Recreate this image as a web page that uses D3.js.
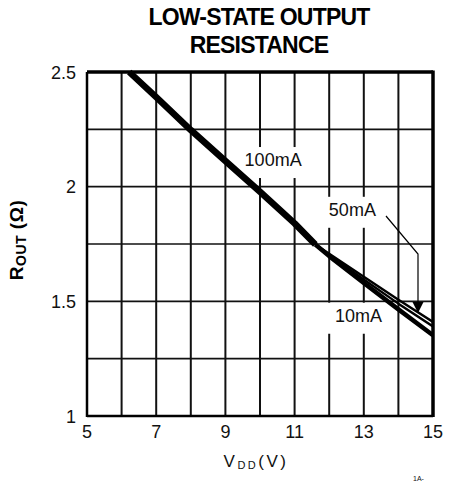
<!DOCTYPE html>
<html><head><meta charset="utf-8">
<script src="https://cdn.jsdelivr.net/npm/d3@7"></script>
<style>html,body{margin:0;padding:0;background:#fff;} svg{display:block;font-family:"Liberation Sans",Arial,sans-serif;}</style>
</head><body><svg id="c" width="451" height="484"></svg>
<script>
const xTicks = [5, 7, 9, 11, 13, 15];
const yTicks = [1, 1.5, 2, 2.5];
const yTickLabels = ["1", "1.5", "2", "2.5"];
const xGrid = [5,6,7,8,9,10,11,12,13,14,15];
const yGrid = [1,1.25,1.5,1.75,2,2.25,2.5];
const vddCommon = [6.22, 7, 8, 9, 10, 11, 11.6];
const rCommon = [2.5, 2.39, 2.247, 2.112, 1.978, 1.84, 1.748];
const vddTail = [11.6, 12, 13, 14, 15];
const r50 = [1.748, 1.707, 1.607, 1.507, 1.41];
const r10 = [1.748, 1.702, 1.595, 1.49, 1.39];
const r100 = [1.748, 1.697, 1.58, 1.465, 1.352];

const svg = d3.select("#c");
const x = d3.scaleLinear().domain([5,15]).range([87,433]);
const y = d3.scaleLinear().domain([1,2.5]).range([416,72]);

// grid
svg.append("g").selectAll("line").data(xGrid.slice(1,-1)).join("line")
  .attr("x1", d=>x(d)).attr("x2", d=>x(d)).attr("y1", y(1)).attr("y2", y(2.5))
  .attr("stroke","#111").attr("stroke-width",2);
svg.append("g").selectAll("line").data(yGrid.slice(1,-1)).join("line")
  .attr("x1", x(5)).attr("x2", x(15)).attr("y1", d=>y(d)).attr("y2", d=>y(d))
  .attr("stroke","#111").attr("stroke-width",1.6);

// label backgrounds
const labels = [
  {t:"100mA", v:10.38, r:2.09, w:66},
  {t:"50mA", v:12.67, r:1.873, w:60},
  {t:"10mA", v:12.85, r:1.411, w:62}
];
svg.append("g").selectAll("rect").data(labels).join("rect")
  .attr("x", d=>x(d.v)-d.w/2).attr("y", d=>y(d.r)-19).attr("width", d=>d.w).attr("height", 31)
  .attr("fill","#fff");

// curves
const line = d3.line().x(d=>x(d[0])).y(d=>y(d[1]));
const common = d3.zip(vddCommon, rCommon);
svg.append("path").datum(common).attr("d", line).attr("fill","none").attr("stroke","#000").attr("stroke-width",6.5).attr("stroke-linejoin","round");
svg.append("clipPath").attr("id","pc").append("rect").attr("x",x(5)).attr("y",y(2.5)).attr("width",x(15)-x(5)).attr("height",y(1)-y(2.5));
const tails = [
  {d:r50, w:2.4},
  {d:r10, w:2.4},
  {d:r100, w:4.5}
];
svg.append("g").attr("clip-path","url(#pc)").selectAll("path").data(tails).join("path")
  .attr("d", t=>line(d3.zip(vddTail, t.d))).attr("fill","none").attr("stroke","#000")
  .attr("stroke-width", t=>t.w).attr("stroke-linejoin","round");

// label text
svg.append("g").selectAll("text").data(labels).join("text")
  .attr("x", d=>x(d.v)).attr("y", d=>y(d.r)).attr("text-anchor","middle")
  .attr("font-size",18).attr("fill","#111").text(d=>d.t);

// pointer arrow for 50mA
svg.append("path").attr("d", `M386,216 L418,254 L418,304`).attr("fill","none").attr("stroke","#000").attr("stroke-width",1.2);
svg.append("path").attr("d", `M412.5,302 L423.5,302 L418,313 Z`).attr("fill","#000");

// frame
svg.append("line").attr("x1",x(5)).attr("x2",x(15)).attr("y1",y(2.5)).attr("y2",y(2.5)).attr("stroke","#000").attr("stroke-width",3.5);
svg.append("line").attr("x1",x(15)).attr("x2",x(15)).attr("y1",y(2.5)-1.5).attr("y2",y(1)+1).attr("stroke","#000").attr("stroke-width",3.5);
svg.append("line").attr("x1",x(5)).attr("x2",x(15)).attr("y1",y(1)).attr("y2",y(1)).attr("stroke","#000").attr("stroke-width",2.5);
svg.append("line").attr("x1",x(5)).attr("x2",x(5)).attr("y1",y(2.5)).attr("y2",y(1)+1).attr("stroke","#000").attr("stroke-width",2.5);

// axes tick labels
svg.append("g").selectAll("text").data(xTicks).join("text")
  .attr("x", d=>x(d)).attr("y", 438).attr("text-anchor","middle").attr("font-size",18).attr("fill","#111").text(d=>d);
svg.append("g").selectAll("text").data(yTicks).join("text")
  .attr("x", 76).attr("y", d=>y(d)+6.5).attr("text-anchor","end").attr("font-size",18).attr("fill","#111")
  .text((d,i)=>yTickLabels[i]);

// title
svg.append("text").attr("x",259).attr("y",25).attr("text-anchor","middle").attr("font-size",23).attr("font-weight","bold").attr("letter-spacing",-0.8).text("LOW-STATE OUTPUT");
svg.append("text").attr("x",259).attr("y",53).attr("text-anchor","middle").attr("font-size",23).attr("font-weight","bold").attr("letter-spacing",-0.8).text("RESISTANCE");

// y title
const yt = svg.append("text").attr("transform","translate(23,240) rotate(-90)").attr("text-anchor","middle").attr("font-weight","bold").attr("font-size",19).attr("letter-spacing",0.5);
yt.append("tspan").text("R");
yt.append("tspan").attr("font-size",14).attr("dy",3).text("OUT");
yt.append("tspan").attr("dy",-3).text(" (Ω)");

// x title
const xt = svg.append("text").attr("x",256).attr("y",467).attr("text-anchor","middle").attr("font-size",17).attr("letter-spacing",2.5).attr("fill","#111");
xt.append("tspan").text("V");
xt.append("tspan").attr("font-size",11).attr("dy",2).text("DD");
xt.append("tspan").attr("dy",-2).text("(V)");

svg.append("text").attr("x",413).attr("y",481).attr("font-size",7).attr("fill","#111").text("1A-");
</script></body></html>
